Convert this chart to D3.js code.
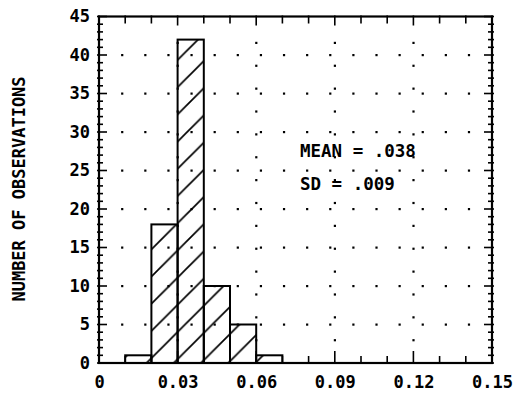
<!DOCTYPE html>
<html><head><meta charset="utf-8">
<script src="https://cdn.jsdelivr.net/npm/d3@7"></script>
<style>
html,body{margin:0;padding:0;background:#fff;}
svg text{font-family:"DejaVu Sans Mono","Liberation Mono",monospace;font-weight:bold;fill:#000;}
</style></head>
<body>
<svg id="chart" width="524" height="397"></svg>
<script>
// ---- data ----
const binStarts = [0.01, 0.02, 0.03, 0.04, 0.05, 0.06];
const binWidth = 0.01;
const counts = [1, 18, 42, 10, 5, 1];
const xTickValues = [0, 0.03, 0.06, 0.09, 0.12, 0.15];
const xTickLabels = ["0", "0.03", "0.06", "0.09", "0.12", "0.15"];
const yTickValues = [0, 5, 10, 15, 20, 25, 30, 35, 40, 45];
const yTickLabels = ["0", "5", "10", "15", "20", "25", "30", "35", "40", "45"];
const statLines = ["MEAN = .038", "SD = .009"];
const yTitle = "NUMBER OF OBSERVATIONS";

// ---- layout ----
const L = 99, R = 492, T = 16.5, B = 363;
const svg = d3.select("#chart");
const x = d3.scaleLinear().domain([0, 0.15]).range([L, R]);
const y = d3.scaleLinear().domain([0, 45]).range([B, T]);

// hatch pattern (45deg lines)
const P = 27.2;
const defs = svg.append("defs");
const pat = defs.append("pattern").attr("id", "hatch")
  .attr("patternUnits", "userSpaceOnUse")
  .attr("x", 20).attr("y", 0).attr("width", P).attr("height", P);
pat.append("path")
  .attr("d", `M0,${P} L${P},0 M${-2},2 L2,-2 M${P-2},${P+2} L${P+2},${P-2}`)
  .attr("stroke", "#000").attr("stroke-width", 1.7).attr("fill", "none");

// dot grid: rows at y ticks, columns at x major ticks
const xDots = d3.range(1, 17).map(k => 0.15 * k / 17);
const yDots = d3.range(1, 15).map(k => 45 * k / 15.15);
const rowVals = yTickValues.filter(v => v > 0 && v < 45);
const colVals = xTickValues.filter(v => v > 0 && v < 0.15);
const dotsG = svg.append("g");
rowVals.forEach(rv => {
  dotsG.selectAll(null).data(xDots).enter().append("rect")
    .attr("x", d => x(d) - 1).attr("y", y(rv) - 1)
    .attr("width", 2.2).attr("height", 2.2).attr("fill", "#000");
});
colVals.forEach(cv => {
  dotsG.selectAll(null).data(yDots).enter().append("rect")
    .attr("x", x(cv) - 1).attr("y", d => y(d) - 1)
    .attr("width", 2.2).attr("height", 2.2).attr("fill", "#000");
});

// bars
const bars = binStarts.map((s, i) => ({ s, c: counts[i] }));
svg.append("g").selectAll("rect").data(bars).enter().append("rect")
  .attr("x", d => x(d.s))
  .attr("y", d => y(d.c))
  .attr("width", d => x(d.s + binWidth) - x(d.s))
  .attr("height", d => y(0) - y(d.c))
  .attr("fill", "url(#hatch)")
  .attr("stroke", "#000").attr("stroke-width", 2);

// frame
svg.append("rect").attr("x", L).attr("y", T).attr("width", R - L).attr("height", B - T)
  .attr("fill", "none").attr("stroke", "#000").attr("stroke-width", 2.2);

// ticks
const yMinor = d3.range(0, 46, 1);
const xMinor = d3.range(0, 16).map(k => k * 0.01);
const tk = svg.append("g").attr("stroke", "#000").attr("stroke-width", 1.6);
yMinor.forEach(v => {
  const major = v % 5 === 0;
  tk.append("line").attr("x1", L - 2).attr("x2", L + (major ? 8 : 4)).attr("y1", y(v)).attr("y2", y(v));
  tk.append("line").attr("x1", R + 2).attr("x2", R - (major ? 8 : 4)).attr("y1", y(v)).attr("y2", y(v));
});
xMinor.forEach((v, i) => {
  const major = i % 3 === 0;
  tk.append("line").attr("y1", B + 1).attr("y2", B - (major ? 12 : 7)).attr("x1", x(v)).attr("x2", x(v));
  tk.append("line").attr("y1", T - 1).attr("y2", T + (major ? 9 : 7)).attr("x1", x(v)).attr("x2", x(v));
});

// axes labels via d3 axes
const xAxis = d3.axisBottom(x).tickValues(xTickValues)
  .tickFormat((d, i) => xTickLabels[i]).tickSize(0).tickPadding(13);
const gx = svg.append("g").attr("transform", `translate(0,${B})`).call(xAxis);
gx.select(".domain").remove();
gx.selectAll("text").attr("font-size", 17).attr("font-family", null).style("font-weight", "bold");

const yAxis = d3.axisLeft(y).tickValues(yTickValues)
  .tickFormat((d, i) => yTickLabels[i]).tickSize(0).tickPadding(9);
const gy = svg.append("g").attr("transform", `translate(${L},0)`).call(yAxis);
gy.select(".domain").remove();
gy.selectAll("text").attr("font-size", 17).attr("font-family", null).style("font-weight", "bold");

// y title
svg.append("text").attr("transform", `translate(25,189) rotate(-90)`)
  .attr("text-anchor", "middle").attr("font-size", 17).text(yTitle);

// stats
svg.append("text").attr("x", 300).attr("y", 157).attr("font-size", 17.5).text(statLines[0]);
svg.append("text").attr("x", 300).attr("y", 190).attr("font-size", 17.5).text(statLines[1]);
</script>
</body></html>
